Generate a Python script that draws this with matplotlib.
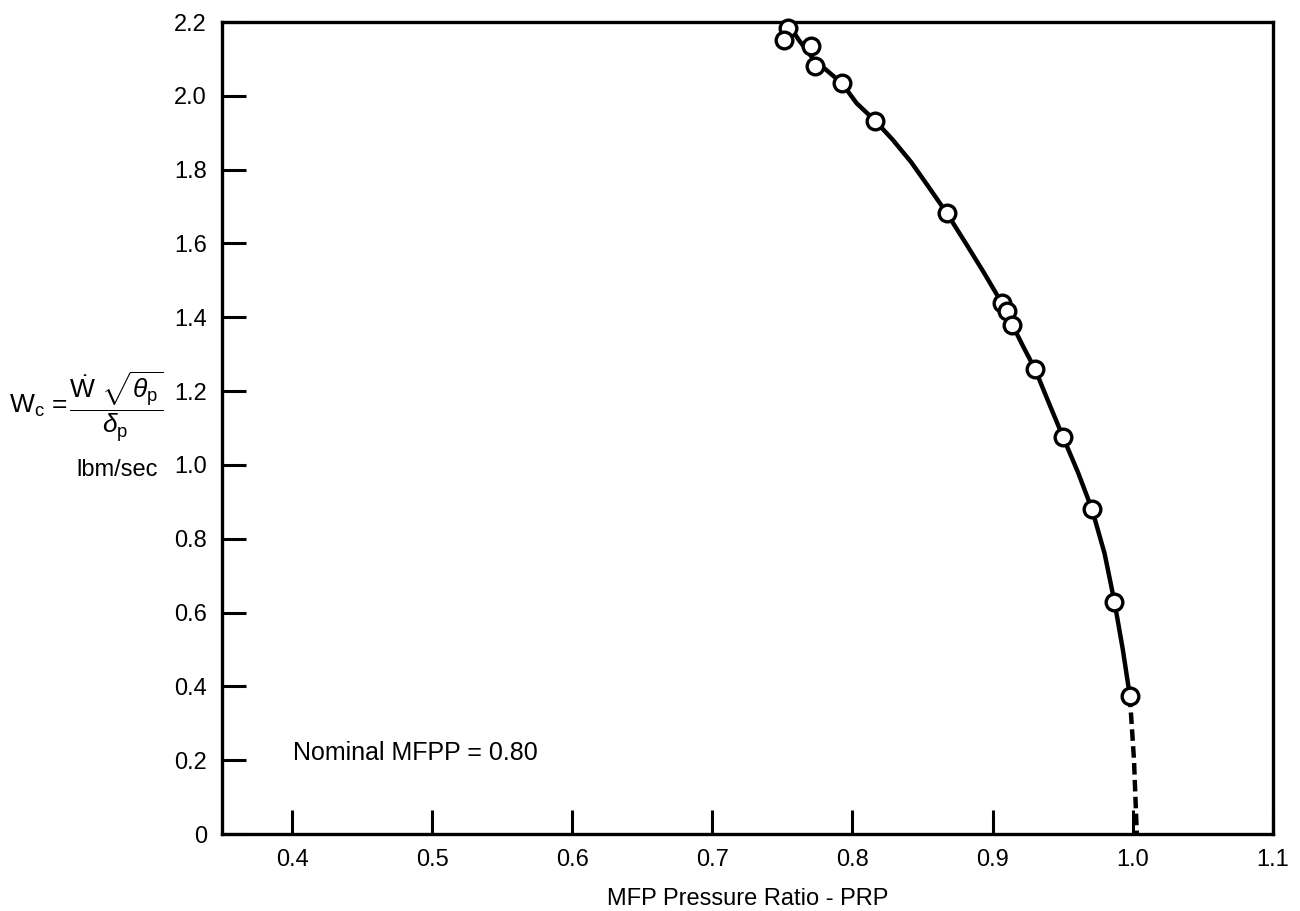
import numpy as np
import matplotlib
matplotlib.use("Agg")
from matplotlib import pyplot as plt

plt.rcParams['font.family'] = ['Liberation Sans', 'DejaVu Sans']
plt.rcParams['mathtext.fontset'] = 'custom'
plt.rcParams['mathtext.rm'] = 'Liberation Sans'
plt.rcParams['mathtext.it'] = 'Liberation Sans:italic'
plt.rcParams['mathtext.bf'] = 'Liberation Sans:bold'

# measured points (open circles)
prp = [0.754, 0.7515, 0.7705, 0.7736, 0.7923, 0.8161, 0.8674,
       0.9066, 0.9106, 0.9141, 0.9303, 0.9504, 0.971, 0.987, 0.998]
wc = [2.185, 2.152, 2.134, 2.080, 2.035, 1.933, 1.682,
      1.439, 1.417, 1.380, 1.260, 1.075, 0.880, 0.630, 0.375]

# faired curve
curve_x = [0.755, 0.762, 0.772, 0.7923, 0.803, 0.8161, 0.829, 0.842,
           0.855, 0.8674, 0.881, 0.894, 0.9066, 0.9141, 0.922, 0.9303,
           0.940, 0.9504, 0.961, 0.971, 0.980, 0.987, 0.993, 0.998]
curve_y = [2.19, 2.15, 2.10, 2.035, 1.98, 1.933, 1.88, 1.82,
           1.75, 1.682, 1.60, 1.52, 1.439, 1.38, 1.32, 1.26,
           1.17, 1.075, 0.98, 0.88, 0.76, 0.63, 0.50, 0.375]
# dashed extrapolation to zero flow
dash_x = [0.998, 1.001, 1.003]
dash_y = [0.375, 0.20, 0.0]

xticks = [0.4, 0.5, 0.6, 0.7, 0.8, 0.9, 1.0, 1.1]
yticks = [0, 0.2, 0.4, 0.6, 0.8, 1.0, 1.2, 1.4, 1.6, 1.8, 2.0, 2.2]
ytick_labels = ["0"] + ["%.1f" % v for v in yticks[1:]]

fig = plt.figure(figsize=(13, 9.11), dpi=100)
ax = fig.add_axes([0.1708, 0.0845, 0.8082, 0.8913])

ax.plot(curve_x, curve_y, color="black", lw=3.2, solid_joinstyle="round",
        solid_capstyle="round", zorder=2)
ax.plot(dash_x, dash_y, color="black", lw=3.2, ls=(0, (2.6, 1.2)), zorder=2)
ax.plot(prp, wc, ls="none", marker="o", ms=12, mfc="white", mec="black",
        mew=2.4, zorder=3, clip_on=False)

ax.set_xlim(0.35, 1.1)
ax.set_ylim(0, 2.2)
ax.set_xticks(xticks)
ax.set_xticklabels(["%.1f" % v for v in xticks])
ax.set_yticks(yticks)
ax.set_yticklabels(ytick_labels)
ax.tick_params(direction="in", length=17, width=2.2, labelsize=17, pad=11,
               top=False, right=False)
for s in ax.spines.values():
    s.set_linewidth(2.4)

ax.set_xlabel("MFP Pressure Ratio - PRP", fontsize=17, labelpad=12)

ax.text(0.401, 0.22, "Nominal MFPP = 0.80", fontsize=18, ha="left", va="center")

fig.text(0.007, 0.554, r"W$_\mathrm{c}$ =", fontsize=19, ha="left", va="center")
fig.text(0.0895, 0.554, r"$\dfrac{\dot{\mathrm{W}}\ \sqrt{\theta_\mathrm{p}}}{\delta_\mathrm{p}}$",
         fontsize=19, ha="center", va="center")
fig.text(0.090, 0.484, "lbm/sec", fontsize=17, ha="center", va="center")

fig.savefig("out.png", dpi=100)
